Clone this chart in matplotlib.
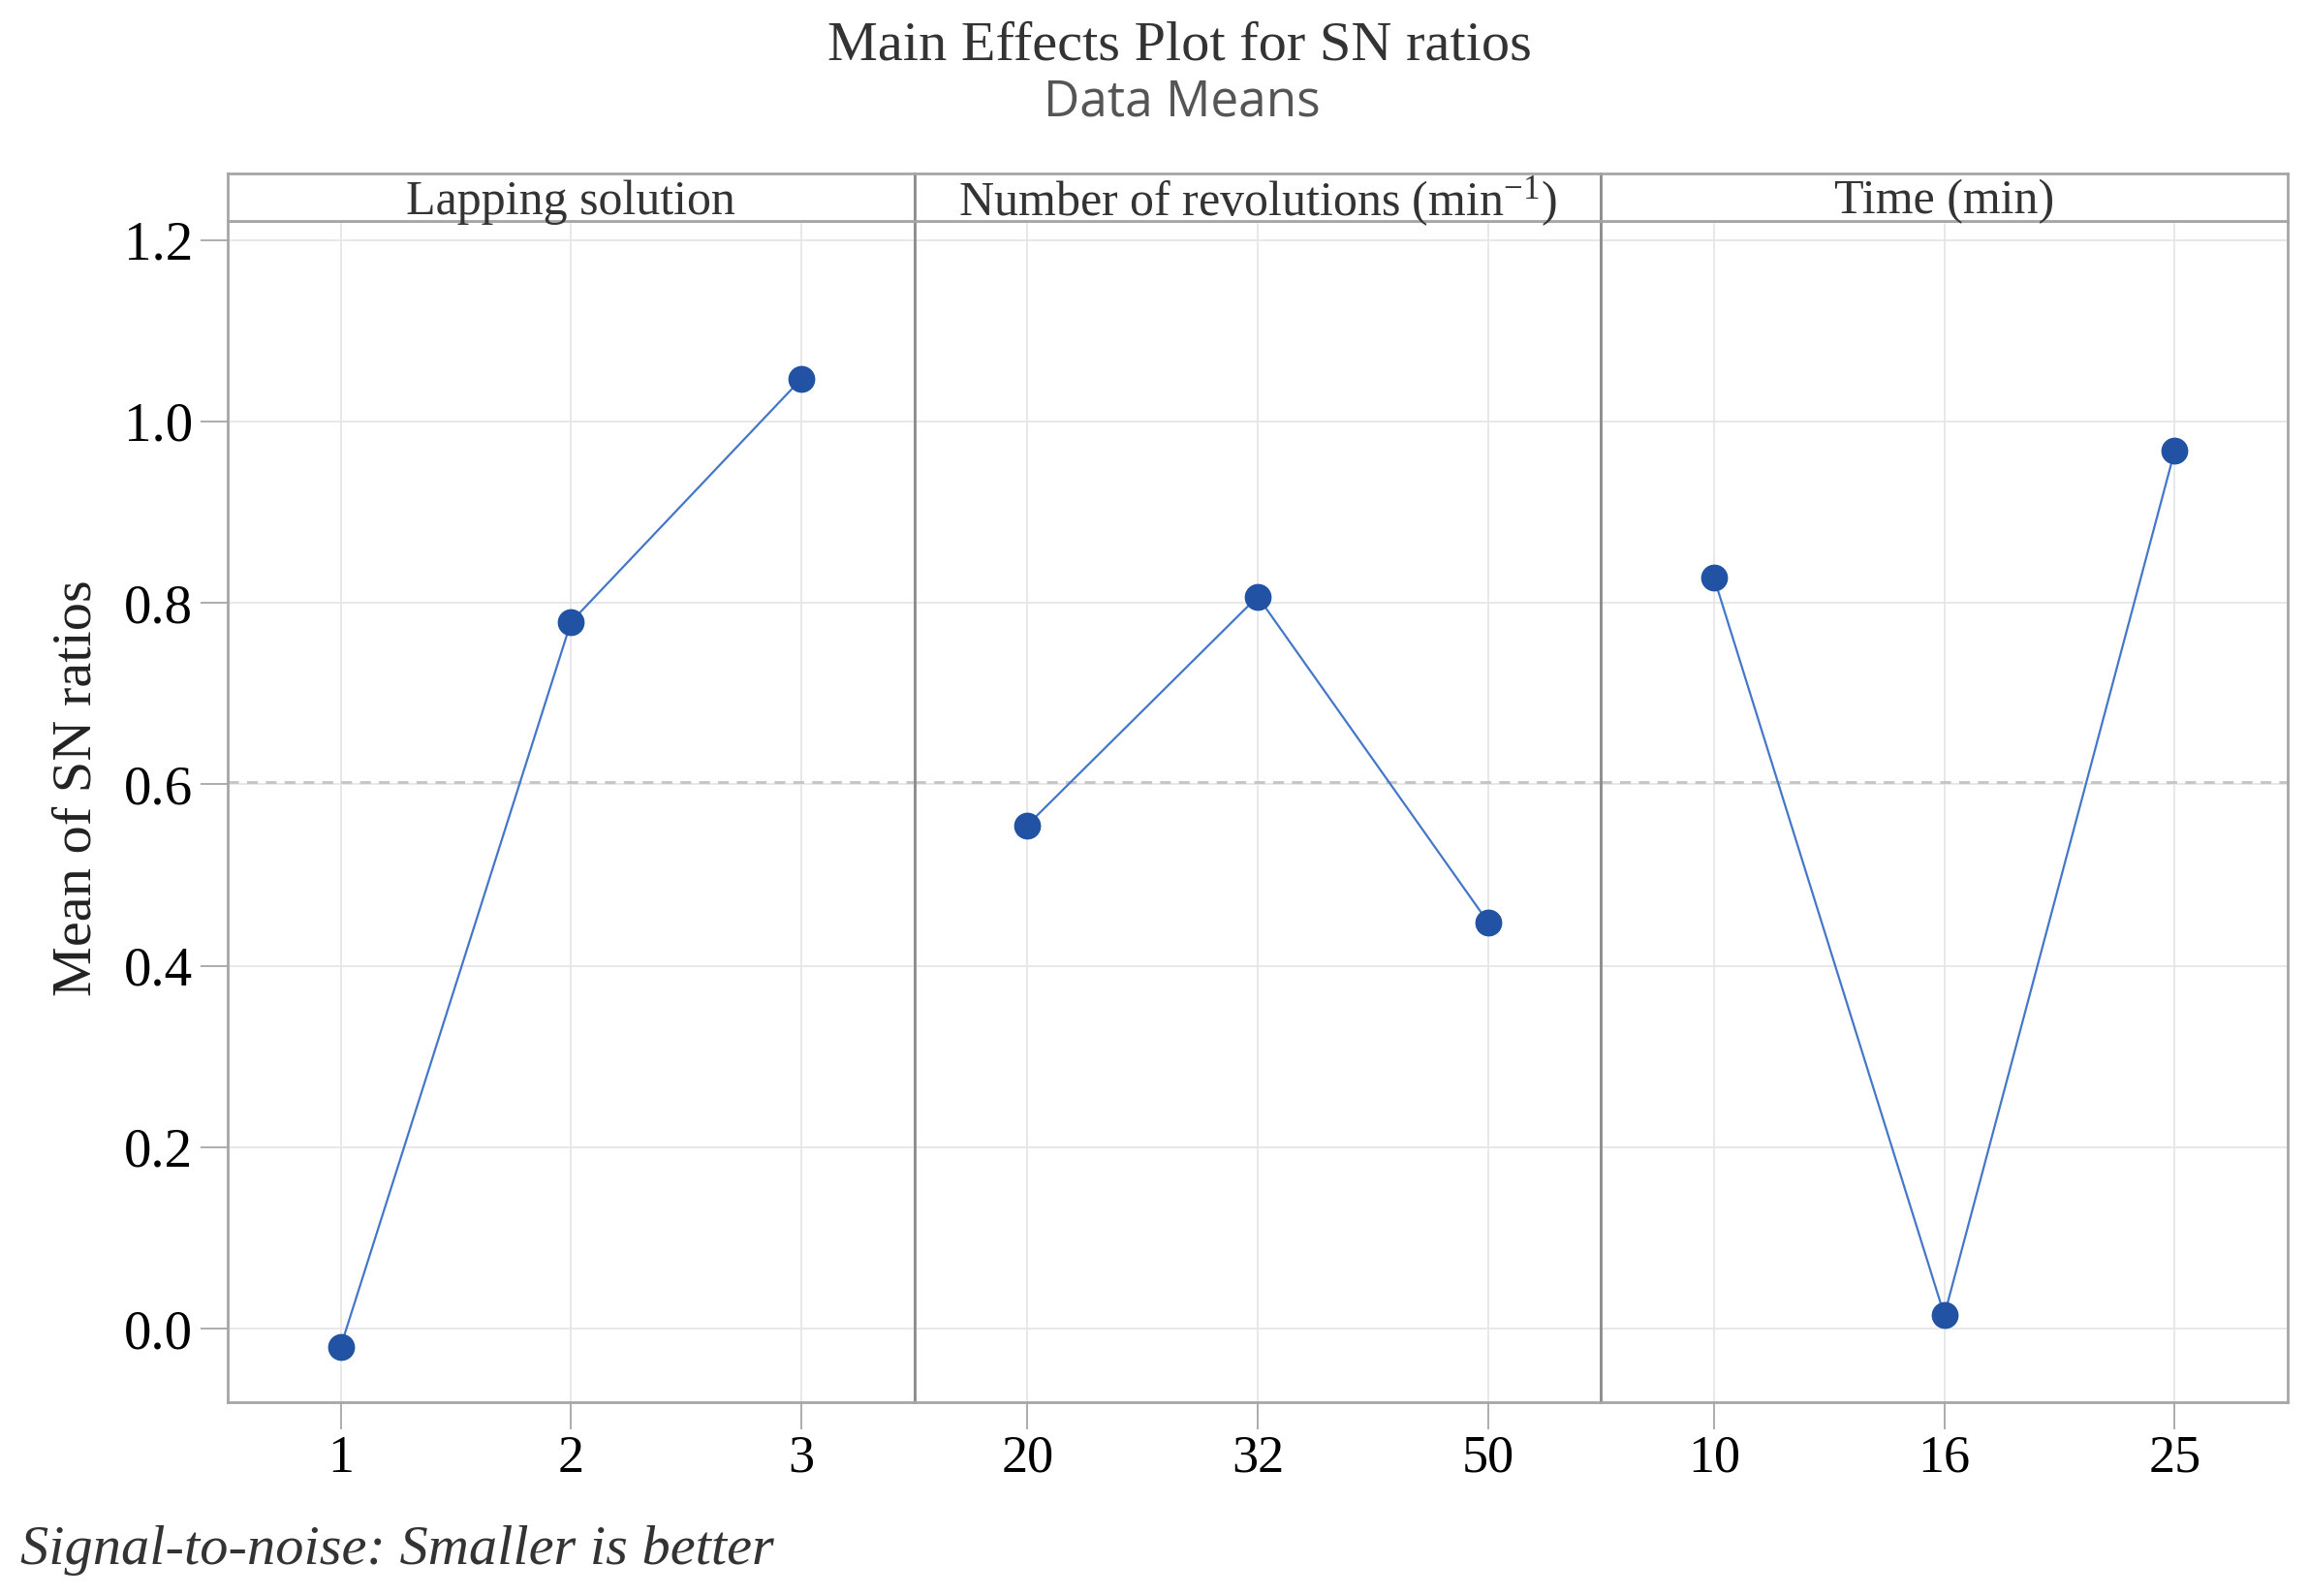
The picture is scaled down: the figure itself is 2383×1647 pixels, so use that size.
import matplotlib
matplotlib.use('Agg')
import matplotlib.pyplot as plt

# data
factors = ['Lapping solution', 'Number of revolutions (min$^{-1}$)', 'Time (min)']
levels = [['1', '2', '3'], ['20', '32', '50'], ['10', '16', '25']]
lapping = [-0.020, 0.779, 1.047]
revolutions = [0.555, 0.807, 0.448]
time_min = [0.828, 0.015, 0.968]
grand_mean = 0.6025
yticks = [0.0, 0.2, 0.4, 0.6, 0.8, 1.0, 1.2]

series = [lapping, revolutions, time_min]

plt.rcParams['font.family'] = ['Liberation Serif', 'DejaVu Serif']
plt.rcParams['mathtext.fontset'] = 'custom'
plt.rcParams['mathtext.rm'] = 'Liberation Serif'
plt.rcParams['mathtext.it'] = 'Liberation Serif:italic'

W, H = 2383, 1647
fig = plt.figure(figsize=(W / 100, H / 100), dpi=100)

left, right = 235 / W, 2361 / W
top_strip, top_data, bottom = 1 - 179 / H, 1 - 228 / H, 1 - 1447 / H
pw = (right - left) / 3

border = '#a6a6a6'
line_col = '#4477c8'
dot_col = '#2152a3'

for i in range(3):
    x0 = left + i * pw
    ax = fig.add_axes([x0, bottom, pw, top_data - bottom])
    xs = [1, 2, 3]
    ax.axhline(grand_mean, color='#c4c4c4', ls=(0, (4, 3)), lw=2, zorder=1)
    ax.plot(xs, series[i], color=line_col, lw=1.6, zorder=2)
    ax.plot(xs, series[i], 'o', color=dot_col, ms=19, zorder=3)
    ax.set_xlim(0.51, 3.49)
    ax.set_ylim(-0.081, 1.221)
    ax.set_xticks(xs)
    ax.set_xticklabels(levels[i])
    ax.set_yticks(yticks)
    ax.grid(True, color='#e6e6e6', lw=1.3)
    ax.set_axisbelow(True)
    ax.tick_params(axis='x', length=20, width=1.3, color=border, labelsize=39, pad=4)
    ax.tick_params(axis='y', length=20, width=1.3, color=border, labelsize=41, pad=6)
    if i == 0:
        ax.set_yticklabels(['0.0', '0.2', '0.4', '0.6', '0.8', '1.0', '1.2'])
        ax.set_ylabel('Mean of SN ratios', fontsize=42, labelpad=20, color='#222222')
        ax.yaxis.set_label_coords(-0.183, 0.52)
    else:
        ax.tick_params(axis='y', left=False, labelleft=False)
    for s in ax.spines.values():
        s.set_color(border)
        s.set_linewidth(2)
    if i > 0:
        ax.spines['left'].set_color('#8c8c8c')

    # strip header
    sx = fig.add_axes([x0, top_data, pw, top_strip - top_data])
    sx.set_xticks([])
    sx.set_yticks([])
    for s in sx.spines.values():
        s.set_color(border)
        s.set_linewidth(2)
    if i > 0:
        sx.spines['left'].set_color('#8c8c8c')
    sx.text(0.5, 0.40, factors[i], ha='center', va='center', fontsize=36,
            color='#333333', transform=sx.transAxes)

fig.text(0.511, 1 - 22 / H, 'Main Effects Plot for SN ratios', ha='center', va='top',
         fontsize=42, color='#333333')
fig.text(0.512, 1 - 81 / H, 'Data Means', ha='center', va='top',
         fontsize=37, color='#555555', family=['Open Sans', 'DejaVu Sans'])
fig.text(21 / W, 1 - 1600 / H, 'Signal-to-noise: Smaller is better', ha='left', va='center',
         fontsize=42, style='italic', color='#333333')

fig.savefig('out.png', dpi=100)
